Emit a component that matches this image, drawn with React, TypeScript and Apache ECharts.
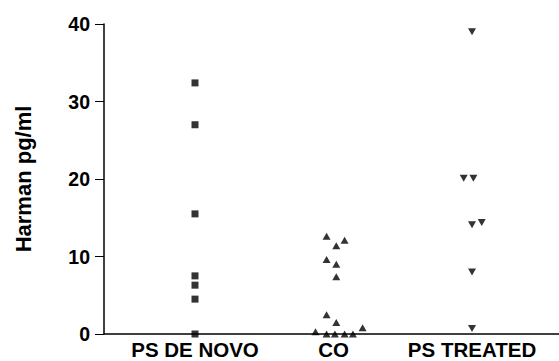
import React, { useEffect, useRef } from "react";
import * as echarts from "echarts";

const categories = ["PS DE NOVO", "CO", "PS TREATED"];
const yTicks = [0, 10, 20, 30, 40];

// [x position (category index with jitter), Harman pg/ml]
const psDeNovo = [
  [1.0, 32.4],
  [1.0, 27.0],
  [1.0, 15.5],
  [1.0, 7.5],
  [1.0, 6.3],
  [1.0, 4.5],
  [1.0, 0.0],
];
const co = [
  [1.95, 12.6],
  [2.08, 12.1],
  [2.02, 11.4],
  [1.95, 9.6],
  [2.02, 9.0],
  [2.02, 7.4],
  [1.95, 2.5],
  [2.02, 1.5],
  [1.87, 0.3],
  [1.95, 0.0],
  [2.01, 0.0],
  [2.08, 0.0],
  [2.14, 0.0],
  [2.21, 0.8],
];
const psTreated = [
  [3.0, 39.0],
  [2.94, 20.1],
  [3.01, 20.1],
  [3.0, 14.1],
  [3.07, 14.4],
  [3.0, 8.0],
  [3.0, 0.7],
];

export default function App() {
  const ref = useRef<HTMLDivElement>(null);
  useEffect(() => {
    if (!ref.current) return;
    const chart = echarts.init(ref.current, null, { renderer: "svg" });
    const font = "Liberation Sans, Arial, sans-serif";
    chart.setOption({
      animation: false,
      backgroundColor: "#ffffff",
      grid: { left: 104, right: 0, top: 24, bottom: 27, containLabel: false },
      xAxis: {
        type: "value",
        min: 0.343,
        max: 3.628,
        axisLine: { show: true, lineStyle: { color: "#000", width: 1.5 } },
        axisTick: { show: false },
        splitLine: { show: false },
        axisLabel: {
          customValues: [1, 2, 3],
          formatter: (v: number) => categories[Math.round(v) - 1] ?? "",
          color: "#000",
          fontFamily: font,
          fontWeight: "bold",
          fontSize: 20.5,
          margin: 5,
        },
      },
      yAxis: {
        type: "value",
        min: 0,
        max: 40,
        interval: 10,
        name: "Harman pg/ml",
        nameLocation: "middle",
        nameRotate: 90,
        nameGap: 70,
        nameTextStyle: {
          color: "#000",
          fontFamily: font,
          fontWeight: "bold",
          fontSize: 22,
        },
        axisLine: { show: true, lineStyle: { color: "#000", width: 1.5 } },
        axisTick: { show: true, length: 9, lineStyle: { color: "#000", width: 1 } },
        splitLine: { show: false },
        axisLabel: {
          customValues: yTicks,
          color: "#000",
          fontFamily: font,
          fontWeight: "bold",
          fontSize: 19.5,
          margin: 14,
        },
      },
      series: [
        {
          type: "scatter",
          data: psDeNovo,
          symbol: "rect",
          symbolSize: 7,
          itemStyle: { color: "#000" },
        },
        {
          type: "scatter",
          data: co,
          symbol: "triangle",
          symbolSize: [8, 7],
          itemStyle: { color: "#000" },
        },
        {
          type: "scatter",
          data: psTreated,
          symbol: "triangle",
          symbolRotate: 180,
          symbolSize: [8, 7],
          itemStyle: { color: "#000" },
        },
      ],
    });
    return () => chart.dispose();
  }, []);
  return <div ref={ref} style={{ width: 559, height: 361, position: "absolute", left: 0, top: 0 }} />;
}
